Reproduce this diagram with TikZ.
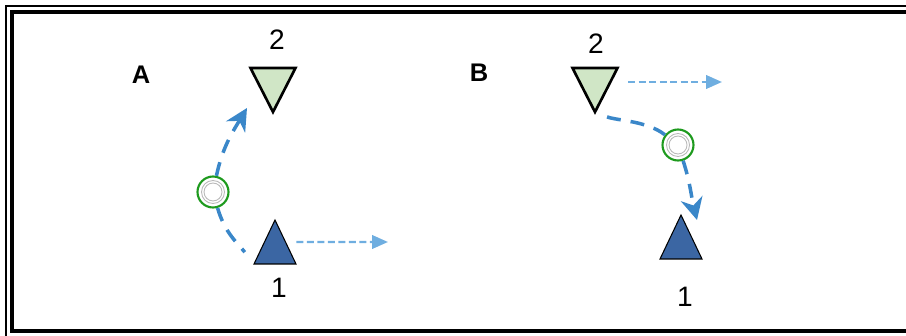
\documentclass[tikz,border=0pt]{standalone}
\usepackage{fontspec}
\setmainfont{Liberation Sans}
\usetikzlibrary{arrows.meta,shapes.geometric}
\definecolor{leafgreen}{RGB}{208,230,198}
\definecolor{deepblue}{RGB}{59,102,163}
\definecolor{flowblue}{RGB}{58,135,201}
\definecolor{moveblue}{RGB}{111,174,224}
\definecolor{ringgreen}{RGB}{30,154,30}

\begin{document}
\begin{tikzpicture}[x=0.02cm, y=0.02cm,
  upsite/.style = {isosceles triangle, isosceles triangle stretches, shape border rotate=90,
    draw, fill=deepblue, line width=0.6pt, inner sep=0pt, outer sep=0pt,
    minimum width=0.84cm, minimum height=0.88cm, anchor=apex},
  downsite/.style = {isosceles triangle, isosceles triangle stretches, shape border rotate=270,
    draw, fill=leafgreen, line width=1.5pt, inner sep=0pt, outer sep=0pt,
    minimum width=0.9cm, minimum height=0.88cm, anchor=apex},
  hub/.style = {circle, draw=ringgreen, line width=1.2pt, fill=white, minimum size=0.62cm, inner sep=0pt,
    path picture={\draw[gray!55, line width=0.5pt] (path picture bounding box.center) circle (0.23cm) circle (0.18cm);}},
  flow/.style = {flowblue, line width=2pt, dash pattern=on 0.28cm off 0.2cm},
  flowtip/.style = {flow, -{Stealth[length=0.44cm, width=0.44cm, inset=0.14cm]}},
  move/.style = {moveblue, line width=1.4pt, dash pattern=on 0.14cm off 0.07cm, -{Triangle[length=0.32cm, width=0.27cm]}},
  tag/.style = {font=\fontsize{14.5}{16}\selectfont\bfseries},
  num/.style = {font=\fontsize{16}{18}\selectfont}]
\useasboundingbox (0,0) rectangle (906,335);
\clip (0,0) rectangle (906,335);

% frame
\draw[line width=1.7pt] (6,-20) |- (930,329);
\draw[line width=1.8pt] (930,4) -| (12,323) -- (930,323);

% A
\node[tag] (lA) at (141,260) {A};
\node[downsite] (tA2) at (273,223) {};
\node[upsite] (tA1) at (275,115) {};
\node[num] (nA2) at (277,295) {2};
\node[num] (nA1) at (279,47) {1};
\node[hub] (cA) at (213,143) {};
\coordinate (tipA) at (247,227);
\coordinate (mA) at (388,93);

\draw[flow, shorten >=0.3cm] (cA) to[out=-74, in=128] (tA1.left corner);
\draw[flowtip] (cA) to[out=78, in=-121] (tipA);
\draw[move, shorten <=0.22cm] (tA1.right side) -- (mA);

% B
\node[tag] (lB) at (479,262) {B};
\node[downsite] (tB2) at (595,223) {};
\node[upsite] (tB1) at (681,120) {};
\node[num] (nB2) at (596,291) {2};
\node[num] (nB1) at (685,38) {1};
\node[hub] (cB) at (678,190) {};
\coordinate (tipB) at (697,115);
\coordinate (mB) at (722,253);

\draw[flow, shorten <=0.26cm] (tB2.apex) to[out=-22, in=142, looseness=0.8] (cB);
\draw[flowtip] (cB) to[out=-72, in=104] (tipB);
\draw[move, shorten <=0.44cm] (tB2.left side |- mB) -- (mB);
\end{tikzpicture}
\end{document}
